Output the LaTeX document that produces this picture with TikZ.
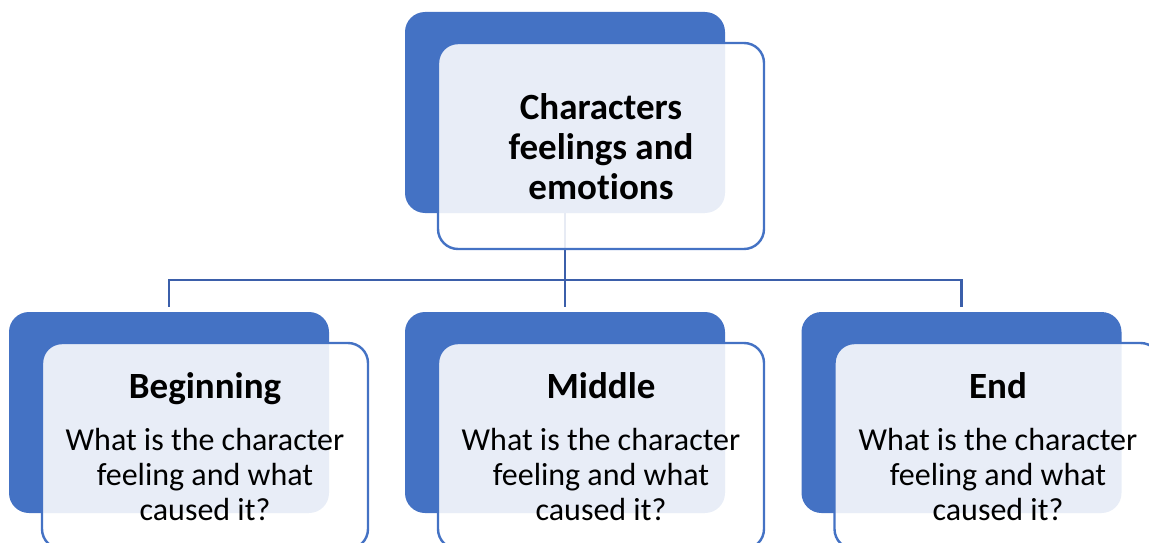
\documentclass[tikz,border=0pt]{standalone}
\usepackage{fontspec}
\setmainfont{Carlito}[Ligatures=NoCommon]
\definecolor{accent}{RGB}{68,114,196}
\definecolor{conn}{RGB}{59,95,170}
\tikzset{
 backbox/.style={fill=accent, draw=none, rounded corners=20pt, minimum width=320pt, minimum height=201pt, inner sep=0pt},
 frontbox/.style={draw=accent, line width=2.4pt, fill=white, fill opacity=0.88, rounded corners=20pt, minimum width=326pt, minimum height=206pt, inner sep=0pt},
 link/.style={draw=conn, line width=2.6pt},
 titletext/.style={font=\fontsize{37}{40}\selectfont\bfseries, align=center, inner sep=0pt, text=black},
 bodytext/.style={font=\fontsize{32}{35}\selectfont, align=center, inner sep=0pt, text=black},
}
\begin{document}
\begin{tikzpicture}[x=1pt,y=-1pt]
\useasboundingbox (0,0) rectangle (1149,543);
\clip (0,0) rectangle (1149,543);
% back boxes
\node[backbox] (b0) at (565,112.5) {};
\node[backbox] (b1) at (169,412.5) {};
\node[backbox] (b2) at (565,412.5) {};
\node[backbox] (b3) at (961.5,412.5) {};
% connectors
\coordinate (hub) at (565,280);
\draw[link] (b0.south) -- (hub);
\draw[link] ([yshift=5pt]b1.north) |- (hub) -| ([yshift=5pt]b3.north);
\draw[link] (hub) -- ([yshift=5pt]b2.north);
% front boxes
\node[frontbox] (l0) at (601,146) {};
\node[frontbox] (l1) at (205,446) {};
\node[frontbox] (l2) at (601,446) {};
\node[frontbox] (l3) at (997.5,446) {};
% texts
\node[titletext] (t0) at (601,147) {Characters\\feelings and\\emotions};
\node[titletext, anchor=base] (t1) at (205,398) {Beginning};
\node[titletext, anchor=base] (t2) at (601,398) {Middle};
\node[titletext, anchor=base] (t3) at (998,398) {End};
\node[bodytext] (d1) at (205,475) {What is the character\\feeling and what\\caused it?};
\node[bodytext] (d2) at (601,475) {What is the character\\feeling and what\\caused it?};
\node[bodytext] (d3) at (998,475) {What is the character\\feeling and what\\caused it?};
\end{tikzpicture}
\end{document}
